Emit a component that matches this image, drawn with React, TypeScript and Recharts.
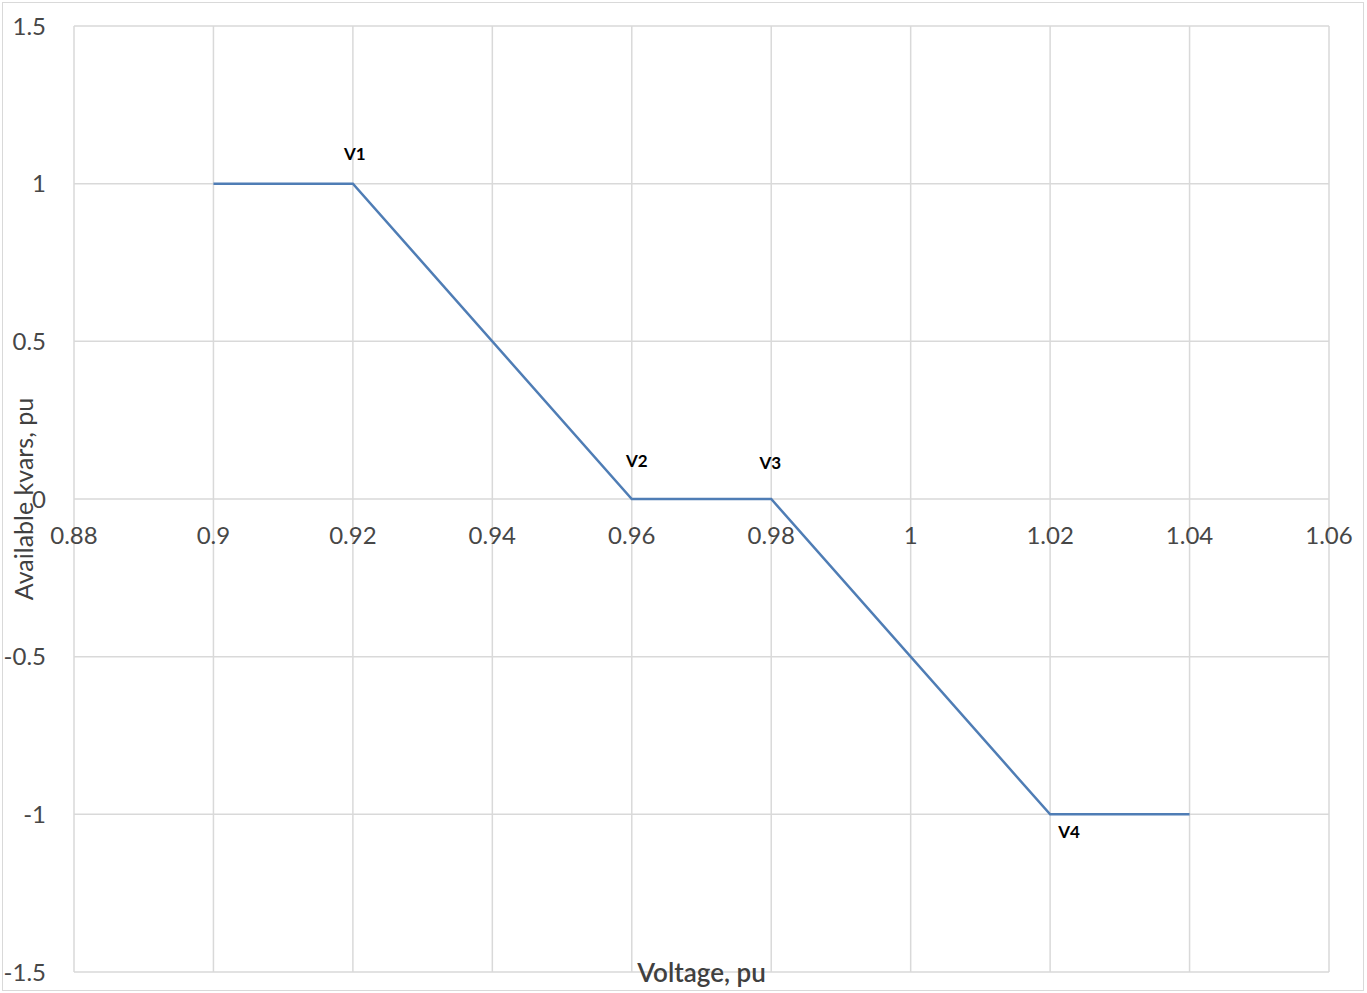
import { LineChart, Line, XAxis, YAxis, CartesianGrid, LabelList, Label } from 'recharts';

const voltage = [0.9, 0.92, 0.96, 0.98, 1.02, 1.04];
const kvars = [1, 1, 0, 0, -1, -1];
const pointNames = ['', 'V1', 'V2', 'V3', 'V4', ''];

const xTicks = [0.88, 0.9, 0.92, 0.94, 0.96, 0.98, 1, 1.02, 1.04, 1.06];
const yTicks = [-1.5, -1, -0.5, 0, 0.5, 1, 1.5];

const data = voltage.map((v, i) => ({ voltage: v, kvars: kvars[i], name: pointNames[i] }));

const W = 1367;
const H = 993;
const margin = { top: 26, right: 38, bottom: 0, left: 0 };
const xAxisHeight = 21;
const yMin = yTicks[0];
const yMax = yTicks[yTicks.length - 1];
// horizontal axis crosses at 0, like the Excel original
const plotH = H - margin.top - margin.bottom - xAxisHeight;
const zeroY = margin.top + (plotH * (yMax - 0)) / (yMax - yMin);

const font = 'Lato, Carlito, Calibri, sans-serif';
const tickColor = '#474747';

// where each point label sits relative to its point
const labelOffset: Record<string, { dx: number; dy: number }> = {
  V1: { dx: 2, dy: -30 },
  V2: { dx: 5, dy: -39 },
  V3: { dx: -1, dy: -37 },
  V4: { dx: 19, dy: 17 },
};

const XTick = ({ x, payload }: any) => (
  <text
    x={x}
    y={zeroY + 35}
    textAnchor="middle"
    dominantBaseline="central"
    fill={tickColor}
    fontSize={24}
    fontFamily={font}
  >
    {String(payload.value)}
  </text>
);

const PointLabel = ({ x, y, value }: any) => {
  if (!value) return null;
  const off = labelOffset[value] || { dx: 0, dy: -30 };
  return (
    <text
      x={x + off.dx}
      y={y + off.dy}
      textAnchor="middle"
      dominantBaseline="central"
      fill="#000000"
      fontSize={17}
      fontWeight="bold"
      fontFamily={font}
    >
      {value}
    </text>
  );
};

const App = () => {
  return (
    <div style={{ position: 'absolute', left: 0, top: 0, width: W, height: H, background: '#fff' }}>
      <LineChart width={W} height={H} data={data} margin={margin}>
        <CartesianGrid stroke="#d9d9d9" strokeWidth={1.5} />
        <XAxis
          type="number"
          dataKey="voltage"
          domain={[0.88, 1.06]}
          ticks={xTicks}
          height={xAxisHeight}
          axisLine={false}
          tickLine={false}
          tick={<XTick />}
          interval={0}
        >
          <Label
            content={({ viewBox }: any) => (
              <text
                x={viewBox.x + viewBox.width / 2}
                y={viewBox.y}
                textAnchor="middle"
                dominantBaseline="central"
                fill="#404040"
                fontSize={26}
                fontWeight={600}
                fontFamily={font}
              >
                Voltage, pu
              </text>
            )}
          />
        </XAxis>
        <YAxis
          type="number"
          domain={[yMin, yMax]}
          ticks={yTicks}
          width={74}
          axisLine={false}
          tickLine={false}
          tickSize={0}
          tickMargin={28}
          interval={0}
          tick={{ fill: tickColor, fontSize: 24, fontFamily: font }}
        >
          <Label
            content={({ viewBox }: any) => {
              const cx = viewBox.x + 23;
              const cy = viewBox.y + viewBox.height / 2;
              return (
                <text
                  x={cx}
                  y={cy}
                  transform={`rotate(-90, ${cx}, ${cy})`}
                  textAnchor="middle"
                  dominantBaseline="central"
                  fill="#404040"
                  fontSize={25}
                  fontFamily={font}
                >
                  Available kvars, pu
                </text>
              );
            }}
          />
        </YAxis>
        <Line
          type="linear"
          dataKey="kvars"
          stroke="#4F7DB5"
          strokeWidth={2.5}
          dot={false}
          isAnimationActive={false}
        >
          <LabelList dataKey="name" content={<PointLabel />} />
        </Line>
      </LineChart>
      <div
        style={{
          position: 'absolute',
          left: 2,
          top: 2,
          width: W - 7,
          height: H - 6,
          border: '1px solid #d9d9d9',
          pointerEvents: 'none',
        }}
      />
    </div>
  );
};

export default App;
